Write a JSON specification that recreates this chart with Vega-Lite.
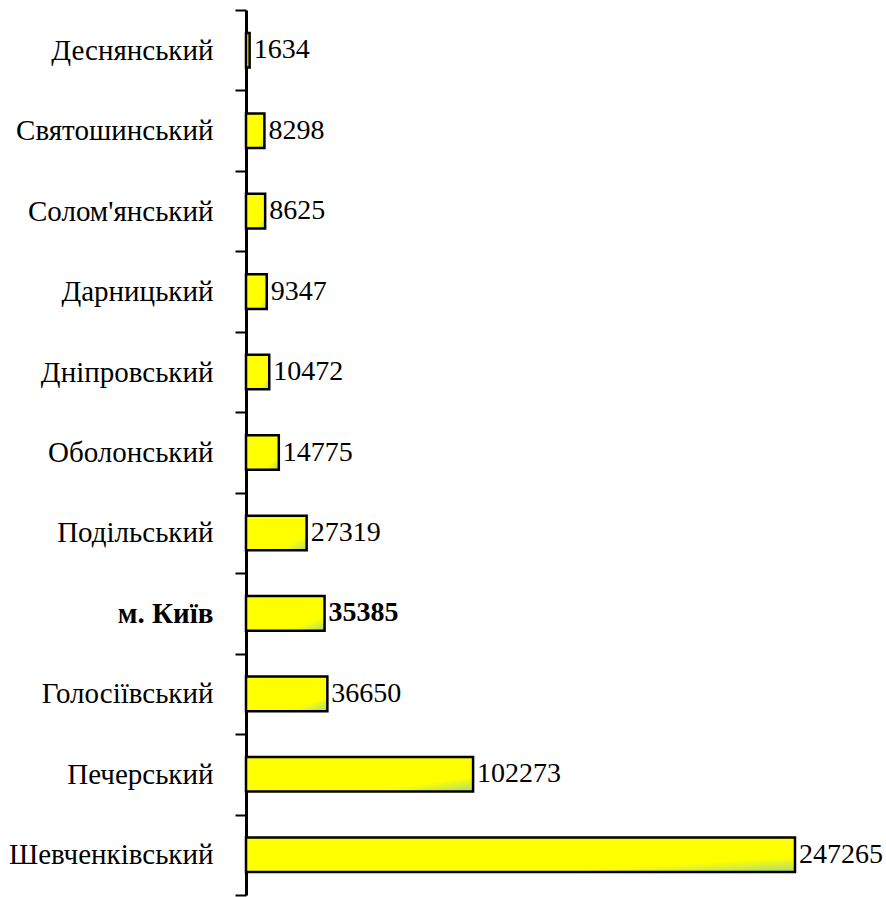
{
  "$schema": "https://vega.github.io/schema/vega-lite/v6.json",
  "width": 640,
  "height": 885,
  "padding": {"left": 246, "top": 10, "right": 0, "bottom": 2},
  "autosize": {"type": "none"},
  "background": "white",
  "config": {"view": {"stroke": null}, "font": "Liberation Serif"},
  "data": {"values": [
    {"district": "Деснянський", "value": 1634},
    {"district": "Святошинський", "value": 8298},
    {"district": "Солом'янський", "value": 8625},
    {"district": "Дарницький", "value": 9347},
    {"district": "Дніпровський", "value": 10472},
    {"district": "Оболонський", "value": 14775},
    {"district": "Подільський", "value": 27319},
    {"district": "м. Київ", "value": 35385},
    {"district": "Голосіївський", "value": 36650},
    {"district": "Печерський", "value": 102273},
    {"district": "Шевченківський", "value": 247265}
  ]},
  "encoding": {
    "y": {
      "field": "district", "type": "nominal", "sort": null,
      "scale": {"paddingInner": 0, "paddingOuter": 0},
      "axis": {
        "title": null,
        "domainColor": "black", "domainWidth": 3,
        "tickColor": "black", "tickWidth": 2, "tickSize": 11, "tickBand": "extent",
        "labelFont": "Liberation Serif", "labelFontSize": 29, "labelColor": "black", "labelLimit": 400,
        "labelPadding": 22, "labelFontWeight": {"expr": "datum.value == 'м. Київ' ? 'bold' : 'normal'"}
      }
    },
    "x": {"field": "value", "type": "quantitative", "scale": {"domain": [0, 288250]}, "axis": null}
  },
  "layer": [
    {
      "mark": {
        "type": "bar", "height": {"band": 0.43}, "stroke": "black", "strokeWidth": 2.5, "orient": "horizontal",
        "color": {"gradient": "linear", "x1": 0, "y1": 0, "x2": 1, "y2": 1,
          "stops": [{"offset": 0, "color": "#FFFF00"}, {"offset": 0.78, "color": "#FFFF00"}, {"offset": 1, "color": "#A8D878"}]}
      }
    },
    {
      "transform": [{"filter": "datum.district != 'м. Київ'"}],
      "mark": {"type": "text", "align": "left", "baseline": "middle", "dx": 4, "fontSize": 28, "font": "Liberation Serif", "color": "black"},
      "encoding": {"text": {"field": "value", "type": "quantitative", "format": "d"}}
    },
    {
      "transform": [{"filter": "datum.district == 'м. Київ'"}],
      "mark": {"type": "text", "align": "left", "baseline": "middle", "dx": 4, "fontSize": 28, "fontWeight": "bold", "font": "Liberation Serif", "color": "black"},
      "encoding": {"text": {"field": "value", "type": "quantitative", "format": "d"}}
    }
  ]
}
